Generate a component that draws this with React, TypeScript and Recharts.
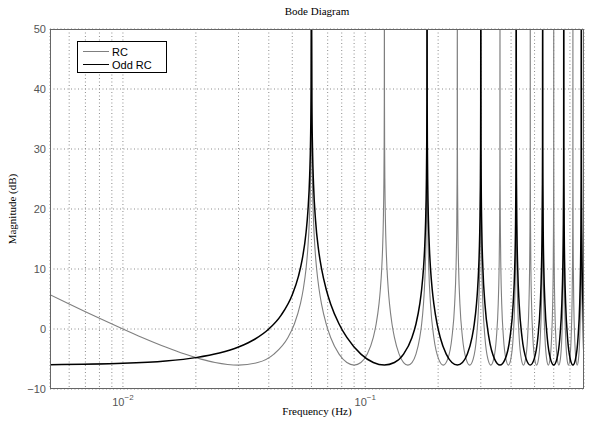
import { LineChart, Line, XAxis, YAxis, CartesianGrid, Legend } from 'recharts';

// RC: resonant peaks at every multiple of 0.06 Hz, about -6 dB between them
const rcCurve: [number, number][] = [
  [0.005, 5.72], [0.006, 4.18], [0.007, 2.89], [0.008, 1.79], [0.01, 0], [0.012, -1.41], [0.015, -3.01],
  [0.018, -4.18], [0.021, -5.02], [0.024, -5.59], [0.03, -6.02], [0.036, -5.59], [0.042, -4.18],
  [0.048, -1.41], [0.051, 0.84], [0.054, 4.18], [0.0555, 6.62], [0.057, 10.09], [0.0579, 13.17],
  [0.0588, 18.02], [0.0594, 24.04], [0.0597, 30.06], [0.05988, 38.02], [0.06, 60],
  [0.06012, 38.02], [0.0603, 30.06], [0.0606, 24.04], [0.0612, 18.02], [0.0621, 13.17], [0.063, 10.09],
  [0.0645, 6.62], [0.066, 4.18], [0.069, 0.84], [0.072, -1.41], [0.078, -4.18], [0.084, -5.59],
  [0.09, -6.02], [0.096, -5.59], [0.102, -4.18], [0.108, -1.41], [0.111, 0.84], [0.114, 4.18],
  [0.1155, 6.62], [0.117, 10.09], [0.1179, 13.17], [0.1188, 18.02], [0.1194, 24.04], [0.1197, 30.06],
  [0.11988, 38.02], [0.12, 60],
  [0.12012, 38.02], [0.1203, 30.06], [0.1206, 24.04], [0.1212, 18.02], [0.1221, 13.17], [0.123, 10.09],
  [0.1245, 6.62], [0.126, 4.18], [0.129, 0.84], [0.132, -1.41], [0.138, -4.18], [0.144, -5.59],
  [0.15, -6.02], [0.156, -5.59], [0.162, -4.18], [0.168, -1.41], [0.171, 0.84], [0.174, 4.18],
  [0.1755, 6.62], [0.177, 10.09], [0.1779, 13.17], [0.1788, 18.02], [0.1794, 24.04], [0.1797, 30.06],
  [0.17988, 38.02], [0.18, 60],
  [0.1803, 30.06], [0.1806, 24.04], [0.1815, 16.09], [0.183, 10.09], [0.186, 4.18], [0.192, -1.41],
  [0.201, -5.02], [0.21, -6.02], [0.219, -5.02], [0.228, -1.41], [0.234, 4.18], [0.237, 10.09],
  [0.2385, 16.09], [0.2394, 24.04], [0.2397, 30.06], [0.24, 60],
  [0.2403, 30.06], [0.2406, 24.04], [0.2415, 16.09], [0.243, 10.09], [0.246, 4.18], [0.252, -1.41],
  [0.261, -5.02], [0.27, -6.02], [0.279, -5.02], [0.288, -1.41], [0.294, 4.18], [0.297, 10.09],
  [0.2985, 16.09], [0.2994, 24.04], [0.2997, 30.06], [0.3, 60],
  [0.3003, 30.06], [0.3006, 24.04], [0.3015, 16.09], [0.303, 10.09], [0.306, 4.18], [0.312, -1.41],
  [0.321, -5.02], [0.33, -6.02], [0.339, -5.02], [0.348, -1.41], [0.354, 4.18], [0.357, 10.09],
  [0.3585, 16.09], [0.3594, 24.04], [0.3597, 30.06], [0.36, 60],
  [0.3603, 30.06], [0.3606, 24.04], [0.3615, 16.09], [0.363, 10.09], [0.366, 4.18], [0.372, -1.41],
  [0.381, -5.02], [0.39, -6.02], [0.399, -5.02], [0.408, -1.41], [0.414, 4.18], [0.417, 10.09],
  [0.4185, 16.09], [0.4194, 24.04], [0.4197, 30.06], [0.42, 60],
  [0.4203, 30.06], [0.4206, 24.04], [0.4215, 16.09], [0.423, 10.09], [0.426, 4.18], [0.432, -1.41],
  [0.441, -5.02], [0.45, -6.02], [0.459, -5.02], [0.468, -1.41], [0.474, 4.18], [0.477, 10.09],
  [0.4785, 16.09], [0.4794, 24.04], [0.4797, 30.06], [0.48, 60],
  [0.4803, 30.06], [0.4806, 24.04], [0.4815, 16.09], [0.483, 10.09], [0.486, 4.18], [0.492, -1.41],
  [0.501, -5.02], [0.51, -6.02], [0.519, -5.02], [0.528, -1.41], [0.534, 4.18], [0.537, 10.09],
  [0.5385, 16.09], [0.5394, 24.04], [0.5397, 30.06], [0.54, 60],
  [0.5403, 30.06], [0.5406, 24.04], [0.5415, 16.09], [0.543, 10.09], [0.546, 4.18], [0.552, -1.41],
  [0.561, -5.02], [0.57, -6.02], [0.579, -5.02], [0.588, -1.41], [0.594, 4.18], [0.597, 10.09],
  [0.5985, 16.09], [0.5994, 24.04], [0.5997, 30.06], [0.6, 60],
  [0.6003, 30.06], [0.6006, 24.04], [0.6015, 16.09], [0.603, 10.09], [0.606, 4.18], [0.612, -1.41],
  [0.621, -5.02], [0.63, -6.02], [0.639, -5.02], [0.648, -1.41], [0.654, 4.18], [0.657, 10.09],
  [0.6585, 16.09], [0.6594, 24.04], [0.6597, 30.06], [0.66, 60],
  [0.6603, 30.06], [0.6606, 24.04], [0.6615, 16.09], [0.663, 10.09], [0.666, 4.18], [0.672, -1.41],
  [0.681, -5.02], [0.69, -6.02], [0.699, -5.02], [0.708, -1.41], [0.714, 4.18], [0.717, 10.09],
  [0.7185, 16.09], [0.7194, 24.04], [0.7197, 30.06], [0.72, 60],
  [0.7203, 30.06], [0.7206, 24.04], [0.7215, 16.09], [0.723, 10.09], [0.726, 4.18], [0.732, -1.41],
  [0.741, -5.02], [0.75, -6.02], [0.759, -5.02], [0.768, -1.41], [0.774, 4.18], [0.777, 10.09],
  [0.7785, 16.09], [0.7794, 24.04], [0.7797, 30.06], [0.78, 60],
  [0.7803, 30.06], [0.7806, 24.04], [0.7815, 16.09], [0.783, 10.09], [0.786, 4.18], [0.792, -1.41],
  [0.8, -4.77],
];

// Odd RC: peaks only at the odd multiples (0.06, 0.18, 0.30 ...)
const oddRcCurve: [number, number][] = [
  [0.005, -5.95], [0.01, -5.72], [0.015, -5.33], [0.02, -4.77], [0.025, -4.01], [0.03, -3.01],
  [0.035, -1.71], [0.04, 0], [0.045, 2.32], [0.05, 5.72], [0.053, 8.77], [0.055, 11.67],
  [0.057, 16.09], [0.058, 19.6], [0.059, 25.62], [0.0595, 31.64], [0.0598, 39.6], [0.06, 60],
  [0.06024, 38.02], [0.0606, 30.06], [0.0612, 24.04], [0.0624, 18.02], [0.0642, 13.17], [0.066, 10.09],
  [0.069, 6.62], [0.072, 4.18], [0.078, 0.84], [0.084, -1.41], [0.096, -4.18], [0.108, -5.59],
  [0.12, -6.02], [0.132, -5.59], [0.144, -4.18], [0.156, -1.41], [0.162, 0.84], [0.168, 4.18],
  [0.171, 6.62], [0.174, 10.09], [0.1758, 13.17], [0.1776, 18.02], [0.1788, 24.04], [0.1794, 30.06],
  [0.17976, 38.02], [0.18, 60],
  [0.18024, 38.02], [0.1806, 30.06], [0.1812, 24.04], [0.1824, 18.02], [0.1842, 13.17], [0.186, 10.09],
  [0.189, 6.62], [0.192, 4.18], [0.198, 0.84], [0.204, -1.41], [0.216, -4.18], [0.228, -5.59],
  [0.24, -6.02], [0.252, -5.59], [0.264, -4.18], [0.276, -1.41], [0.282, 0.84], [0.288, 4.18],
  [0.291, 6.62], [0.294, 10.09], [0.2958, 13.17], [0.2976, 18.02], [0.2988, 24.04], [0.2994, 30.06],
  [0.29976, 38.02], [0.3, 60],
  [0.3006, 30.06], [0.3012, 24.04], [0.303, 16.09], [0.306, 10.09], [0.312, 4.18], [0.324, -1.41],
  [0.342, -5.02], [0.36, -6.02], [0.378, -5.02], [0.396, -1.41], [0.408, 4.18], [0.414, 10.09],
  [0.417, 16.09], [0.4188, 24.04], [0.4194, 30.06], [0.42, 60],
  [0.4206, 30.06], [0.4212, 24.04], [0.423, 16.09], [0.426, 10.09], [0.432, 4.18], [0.444, -1.41],
  [0.462, -5.02], [0.48, -6.02], [0.498, -5.02], [0.516, -1.41], [0.528, 4.18], [0.534, 10.09],
  [0.537, 16.09], [0.5388, 24.04], [0.5394, 30.06], [0.54, 60],
  [0.5406, 30.06], [0.5412, 24.04], [0.543, 16.09], [0.546, 10.09], [0.552, 4.18], [0.564, -1.41],
  [0.582, -5.02], [0.6, -6.02], [0.618, -5.02], [0.636, -1.41], [0.648, 4.18], [0.654, 10.09],
  [0.657, 16.09], [0.6588, 24.04], [0.6594, 30.06], [0.66, 60],
  [0.6606, 30.06], [0.6612, 24.04], [0.663, 16.09], [0.666, 10.09], [0.672, 4.18], [0.684, -1.41],
  [0.702, -5.02], [0.72, -6.02], [0.738, -5.02], [0.756, -1.41], [0.768, 4.18], [0.774, 10.09],
  [0.777, 16.09], [0.7788, 24.04], [0.7794, 30.06], [0.78, 60],
  [0.7806, 30.06], [0.7812, 24.04], [0.783, 16.09], [0.786, 10.09], [0.792, 4.18], [0.8, 0],
];

const xTicks = [
  0.005, 0.006, 0.007, 0.008, 0.009,
  0.01, 0.02, 0.03, 0.04, 0.05, 0.06, 0.07, 0.08, 0.09,
  0.1, 0.2, 0.3, 0.4, 0.5, 0.6, 0.7, 0.8,
];
const decadeTicks = [0.01, 0.1];
const decadeExponents = ['\u22122', '\u22121'];
const yTicks = [-10, 0, 10, 20, 30, 40, 50];
const yTickLabels = ['\u221210', '0', '10', '20', '30', '40', '50'];

const seriesNames = ['RC', 'Odd RC'];
const seriesColors = ['#7f7f7f', '#000000'];

const rcData = rcCurve.map(([f, m]) => ({ f, m }));
const oddRcData = oddRcCurve.map(([f, m]) => ({ f, m }));

const W = 589;
const H = 421;
const plot = { left: 50, top: 29, right: 584, bottom: 389 };

const sans = '"Liberation Sans", Arial, sans-serif';
const serif = '"Liberation Serif", "Times New Roman", serif';

function XTick({ x, payload }: any) {
  const i = decadeTicks.indexOf(payload.value);
  if (i < 0) return null;
  return (
    <text x={x} y={406} textAnchor="middle" fontFamily={sans} fontSize={11} fill="#555">
      <tspan>10</tspan>
      <tspan dy={-6} fontSize={8}>{decadeExponents[i]}</tspan>
    </text>
  );
}

function YTick({ y, payload }: any) {
  const i = yTicks.indexOf(payload.value);
  return (
    <text x={plot.left - 4} y={y + 4} textAnchor="end" fontFamily={sans} fontSize={11} fill="#555">
      {yTickLabels[i]}
    </text>
  );
}

function LegendBox() {
  return (
    <div
      style={{
        width: 90,
        height: 32,
        boxSizing: 'border-box',
        border: '1px solid #000',
        background: '#fff',
        fontFamily: sans,
        fontSize: 11,
        color: '#000',
        position: 'relative',
      }}
    >
      {seriesNames.map((name, i) => (
        <div key={name} style={{ position: 'absolute', left: 5, top: 3 + i * 13, height: 13, display: 'flex', alignItems: 'center' }}>
          <span style={{ display: 'inline-block', width: 26, height: 0, borderTop: `${i ? 1.5 : 1}px solid ${seriesColors[i]}`, marginRight: 3 }} />
          <span>{name}</span>
        </div>
      ))}
    </div>
  );
}

export default function App() {
  return (
    <div style={{ position: 'absolute', left: 0, top: 0, width: W, height: H, background: '#fff' }}>
      <LineChart
        width={W}
        height={H}
        margin={{ top: plot.top, right: W - plot.right, bottom: H - plot.bottom - 1, left: plot.left - 1 }}
      >
        <CartesianGrid stroke="#8c8c8c" strokeDasharray="1 2.5" />
        <XAxis
          dataKey="f"
          type="number"
          scale="log"
          domain={[0.005, 0.8]}
          ticks={xTicks}
          interval={0}
          allowDataOverflow
          height={1}
          axisLine={false}
          tickLine={false}
          tick={<XTick />}
        />
        <YAxis
          type="number"
          domain={[-10, 50]}
          ticks={yTicks}
          interval={0}
          allowDataOverflow
          width={1}
          axisLine={false}
          tickLine={false}
          tick={<YTick />}
        />
        <Legend
          layout="horizontal"
          verticalAlign="middle"
          align="center"
          content={<LegendBox />}
          wrapperStyle={{ left: 77, top: 41, width: 'auto', height: 'auto' }}
        />
        <Line
          data={rcData}
          dataKey="m"
          name={seriesNames[0]}
          type="monotone"
          stroke={seriesColors[0]}
          strokeWidth={1.1}
          dot={false}
          isAnimationActive={false}
        />
        <Line
          data={oddRcData}
          dataKey="m"
          name={seriesNames[1]}
          type="monotone"
          stroke={seriesColors[1]}
          strokeWidth={1.5}
          dot={false}
          isAnimationActive={false}
        />
      </LineChart>
      {/* axes box */}
      <div
        style={{
          position: 'absolute',
          left: plot.left,
          top: plot.top,
          width: plot.right - plot.left,
          height: plot.bottom - plot.top,
          boxSizing: 'border-box',
          border: '1px solid #666',
          pointerEvents: 'none',
        }}
      />
      <div style={{ position: 'absolute', left: plot.left, width: plot.right - plot.left, top: 5, textAlign: 'center', fontFamily: serif, fontSize: 11 }}>
        Bode Diagram
      </div>
      <div style={{ position: 'absolute', left: plot.left, width: plot.right - plot.left, top: 405, textAlign: 'center', fontFamily: serif, fontSize: 11 }}>
        Frequency (Hz)
      </div>
      <div
        style={{
          position: 'absolute',
          left: 12,
          top: (plot.top + plot.bottom) / 2,
          transform: 'translate(-50%, -50%) rotate(-90deg)',
          whiteSpace: 'nowrap',
          fontFamily: serif,
          fontSize: 11,
        }}
      >
        Magnitude (dB)
      </div>
    </div>
  );
}
